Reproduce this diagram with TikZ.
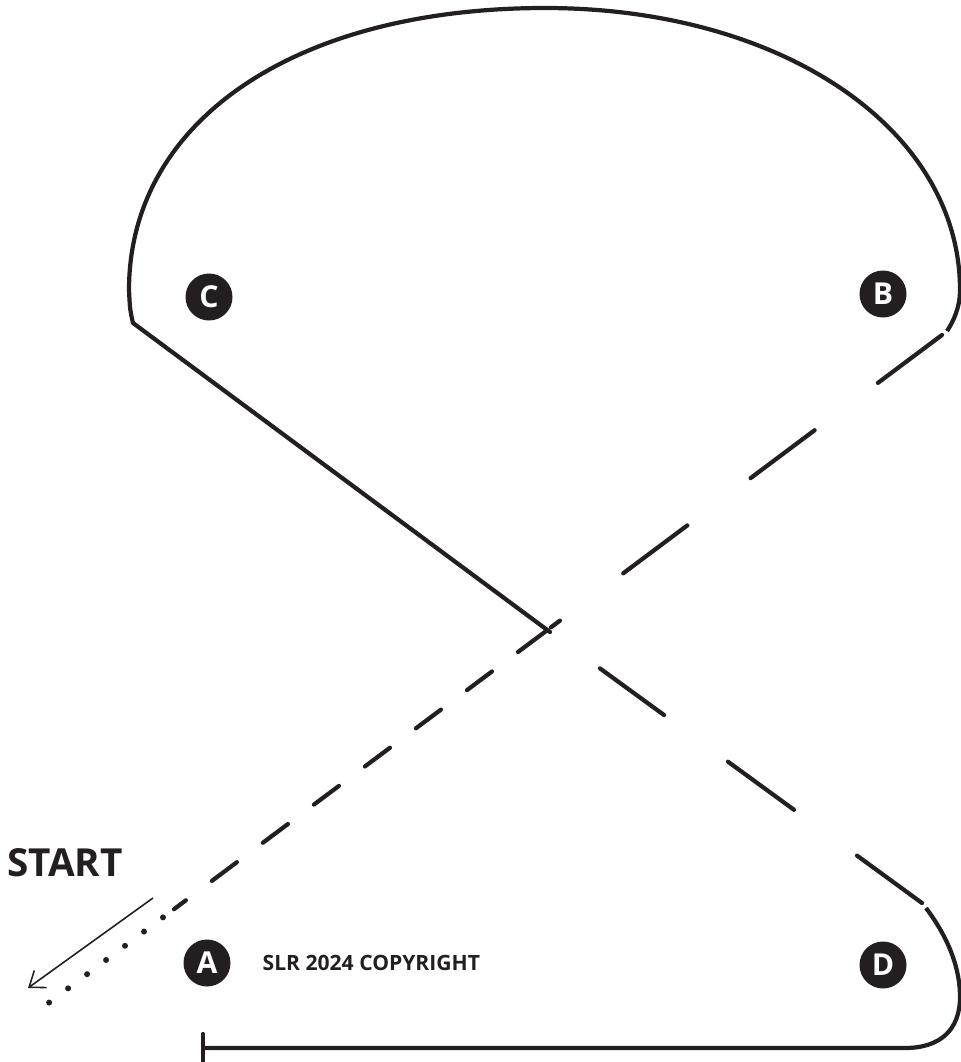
\documentclass[tikz,border=0pt]{standalone}
\usepackage{fontspec}
\setmainfont{Open Sans}
\usepackage{tkz-euclide}
\usetikzlibrary{arrows.meta}
\definecolor{ink}{RGB}{35,31,32}

\begin{document}
\begin{tikzpicture}[route/.style={line width=1.2pt,color=ink},
    stop/.style={circle,fill=ink,minimum size=0.47cm,inner sep=0pt,
      text=white,font=\bfseries\fontsize{8.6}{9}\selectfont}]
            \useasboundingbox (0,0) rectangle (9.61,-10.62);
            % letters
            \tkzDefPoint(2.07,-9.63){A}
            \tkzDefPoint(8.83,-2.94){B}
            \tkzDefPoint(2.09,-2.97){C}
            \tkzDefPoint(8.83,-9.65){D}
            % top loop
            \tkzDefPoint(1.33,-3.23){C0}
            \tkzDefPoint(5.45,-0.08){T}
            \tkzDefPoint(9.47,-3.31){B0}
            % line from start to B
            \tkzDefPoint(9.42,-3.35){B1}
            \tkzDefPoint(5.51,-6.273){X1}
            \tkzDefPoint(5.46,-6.311){X2}
            \tkzDefPoint(5.18,-6.52){X3}
            \tkzDefPoint(1.74,-9.092){S1}
            \tkzDefPoint(1.63,-9.174){S2}
            \tkzDefPoint(0.46,-10.049){S3}
            \tkzDefPoint(1.53,-8.98){S4}
            \tkzDefPoint(0.28,-9.88){S5}
            % line from C to D
            \tkzDefPoint(5.50,-6.32){X}
            \tkzDefPoint(6.00,-6.684){E1}
            \tkzDefPoint(6.64,-7.150){E2}
            \tkzDefPoint(7.28,-7.617){E3}
            \tkzDefPoint(7.94,-8.098){E4}
            \tkzDefPoint(8.57,-8.556){E5}
            \tkzDefPoint(9.22,-9.03){D1}
            % bottom loop
            \tkzDefPoint(9.26,-9.08){D2}
            \tkzDefPoint(9.60,-9.97){D3}
            \tkzDefPoint(9.05,-10.48){D4}
            \tkzDefPoint(2.03,-10.48){F}
            \tkzDefPoint(2.03,-10.34){Fu}
            \tkzDefPoint(2.03,-10.62){Fd}
            \draw[route] (C0) .. controls (1.30,-3.10) .. (1.29,-2.90)
              .. controls (1.29,-1.21) and (2.95,-0.08) .. (T)
              .. controls (7.82,-0.08) and (9.60,-1.29) .. (9.60,-2.90)
              .. controls (9.60,-3.08) and (9.53,-3.22) .. (B0);
            \draw[route] (D2) .. controls (9.50,-9.40) and (9.60,-9.70) .. (D3)
              .. controls (9.60,-10.30) and (9.40,-10.48) .. (D4) -- (F);
            \tkzDrawSegment[route](Fu,Fd)
            \tkzDrawSegment[route](C0,X)
            \tkzDrawSegments[route](E1,E2 E3,E4 E5,D1)
            \tkzDrawSegment[route,dash pattern=on 0.8cm off 0.79cm](B1,X1)
            \tkzDrawSegment[route](X2,X3)
            \tkzDrawSegment[route,dash pattern=on 0.312cm off 0.325cm,dash phase=0.312cm](X3,S1)
            \tkzDrawSegment[route,line width=1.7pt,line cap=round,dash pattern=on 0pt off 0.237cm](S2,S3)
            \draw[ink,line width=0.45pt,-{Straight Barb[length=4pt,width=6pt]}] (S4) -- (S5);
            \node[stop] (nA) at (A) {A};
            \node[stop] (nB) at (B) {B};
            \node[stop] (nC) at (C) {C};
            \node[stop] (nD) at (D) {D};
            \node[text=ink,font=\bfseries\fontsize{11}{13}\selectfont] (start) at (0.65,-8.625) {START};
            \node[text=ink,font=\bfseries\fontsize{6}{7}\selectfont,anchor=west,inner sep=0pt] (copy) at (2.62,-9.63) {SLR 2024 COPYRIGHT};
        \end{tikzpicture}
\end{document}
